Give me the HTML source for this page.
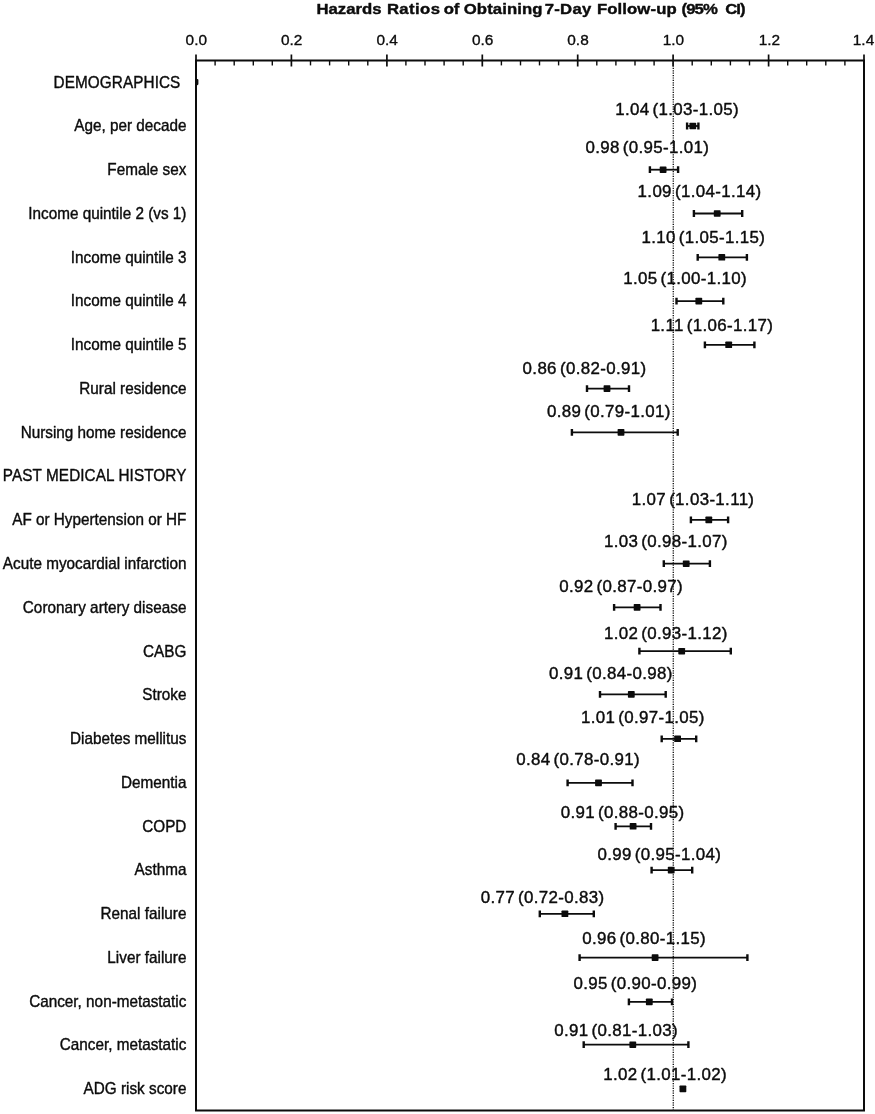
<!DOCTYPE html>
<html><head><meta charset="utf-8"><title>Hazards Ratios of Obtaining 7-Day Follow-up</title>
<style>
html,body{margin:0;padding:0;background:#fff;}
svg{display:block;}
text{font-family:"Liberation Sans",Arial,Helvetica,sans-serif;fill:#0c0c0c;stroke:#0c0c0c;stroke-width:0.35px;stroke-linejoin:round;}
.t{font-weight:bold;font-size:15.2px;stroke-width:0.4px;}
.a{font-size:15.4px;}
.l{font-size:16.2px;stroke-width:0.4px;}
.v{font-size:16.9px;letter-spacing:0.35px;word-spacing:-2px;stroke-width:0.42px;}
</style></head><body>
<svg width="875" height="1114" viewBox="0 0 875 1114">
<rect x="0" y="0" width="875" height="1114" fill="#ffffff"/>
<text class="t" transform="translate(0,13.6) scale(1.1,1)"><tspan x="287.72" style="letter-spacing:0px">Hazards</tspan> <tspan x="351.72" style="letter-spacing:0.36px">Ratios</tspan> <tspan x="403.36" style="letter-spacing:-0.2px">of</tspan> <tspan x="421.57" style="letter-spacing:0.1px">Obtaining</tspan> <tspan x="495.30" style="letter-spacing:0.2px">7-Day</tspan> <tspan x="542.63" style="letter-spacing:0.1px">Follow-up</tspan> <tspan x="619.57" style="letter-spacing:-0.8px">(95%</tspan> <tspan x="659.21" style="letter-spacing:-0.8px">CI)</tspan></text>
<text class="a" x="196.3" y="44.7" text-anchor="middle">0.0</text>
<text class="a" x="291.7" y="44.7" text-anchor="middle">0.2</text>
<text class="a" x="387.2" y="44.7" text-anchor="middle">0.4</text>
<text class="a" x="482.6" y="44.7" text-anchor="middle">0.6</text>
<text class="a" x="578.0" y="44.7" text-anchor="middle">0.8</text>
<text class="a" x="673.4" y="44.7" text-anchor="middle">1.0</text>
<text class="a" x="769.4" y="44.7" text-anchor="middle">1.2</text>
<text class="a" x="863.5" y="44.7" text-anchor="middle">1.4</text>
<path d="M196.0 1111.6V60.6H864.0V1110.6H196.0" stroke="#0c0c0c" stroke-width="2" fill="none"/>
<g stroke="#0c0c0c">
<line x1="196.0" y1="54.5" x2="196.0" y2="66.5" stroke-width="1.7"/>
<line x1="215.1" y1="60.6" x2="215.1" y2="65.4" stroke-width="1.4"/>
<line x1="234.2" y1="60.6" x2="234.2" y2="65.4" stroke-width="1.4"/>
<line x1="253.3" y1="60.6" x2="253.3" y2="65.4" stroke-width="1.4"/>
<line x1="272.3" y1="60.6" x2="272.3" y2="65.4" stroke-width="1.4"/>
<line x1="291.4" y1="54.5" x2="291.4" y2="66.5" stroke-width="1.7"/>
<line x1="310.5" y1="60.6" x2="310.5" y2="65.4" stroke-width="1.4"/>
<line x1="329.6" y1="60.6" x2="329.6" y2="65.4" stroke-width="1.4"/>
<line x1="348.7" y1="60.6" x2="348.7" y2="65.4" stroke-width="1.4"/>
<line x1="367.8" y1="60.6" x2="367.8" y2="65.4" stroke-width="1.4"/>
<line x1="386.9" y1="54.5" x2="386.9" y2="66.5" stroke-width="1.7"/>
<line x1="405.9" y1="60.6" x2="405.9" y2="65.4" stroke-width="1.4"/>
<line x1="425.0" y1="60.6" x2="425.0" y2="65.4" stroke-width="1.4"/>
<line x1="444.1" y1="60.6" x2="444.1" y2="65.4" stroke-width="1.4"/>
<line x1="463.2" y1="60.6" x2="463.2" y2="65.4" stroke-width="1.4"/>
<line x1="482.3" y1="54.5" x2="482.3" y2="66.5" stroke-width="1.7"/>
<line x1="501.4" y1="60.6" x2="501.4" y2="65.4" stroke-width="1.4"/>
<line x1="520.5" y1="60.6" x2="520.5" y2="65.4" stroke-width="1.4"/>
<line x1="539.5" y1="60.6" x2="539.5" y2="65.4" stroke-width="1.4"/>
<line x1="558.6" y1="60.6" x2="558.6" y2="65.4" stroke-width="1.4"/>
<line x1="577.7" y1="54.5" x2="577.7" y2="66.5" stroke-width="1.7"/>
<line x1="596.8" y1="60.6" x2="596.8" y2="65.4" stroke-width="1.4"/>
<line x1="615.9" y1="60.6" x2="615.9" y2="65.4" stroke-width="1.4"/>
<line x1="635.0" y1="60.6" x2="635.0" y2="65.4" stroke-width="1.4"/>
<line x1="654.1" y1="60.6" x2="654.1" y2="65.4" stroke-width="1.4"/>
<line x1="673.1" y1="54.5" x2="673.1" y2="66.5" stroke-width="1.7"/>
<line x1="692.2" y1="60.6" x2="692.2" y2="65.4" stroke-width="1.4"/>
<line x1="711.3" y1="60.6" x2="711.3" y2="65.4" stroke-width="1.4"/>
<line x1="730.4" y1="60.6" x2="730.4" y2="65.4" stroke-width="1.4"/>
<line x1="749.5" y1="60.6" x2="749.5" y2="65.4" stroke-width="1.4"/>
<line x1="768.6" y1="54.5" x2="768.6" y2="66.5" stroke-width="1.7"/>
<line x1="787.7" y1="60.6" x2="787.7" y2="65.4" stroke-width="1.4"/>
<line x1="806.7" y1="60.6" x2="806.7" y2="65.4" stroke-width="1.4"/>
<line x1="825.8" y1="60.6" x2="825.8" y2="65.4" stroke-width="1.4"/>
<line x1="844.9" y1="60.6" x2="844.9" y2="65.4" stroke-width="1.4"/>
<line x1="864.0" y1="54.5" x2="864.0" y2="66.5" stroke-width="1.7"/>
</g>
<line x1="673.3" y1="60.6" x2="673.3" y2="1110.6" stroke="#1a1a1a" stroke-width="1.4" stroke-dasharray="1.2 1.2"/>
<text class="l" style="font-size:16.8px" transform="translate(180.3,87.5) scale(0.91,1)" text-anchor="end" textLength="139.3" lengthAdjust="spacing">DEMOGRAPHICS</text>
<rect x="196.0" y="79.0" width="2.4" height="6.2" rx="1.1" fill="#0c0c0c"/>
<text class="l" style="font-size:16.2px" transform="translate(186.4,131.3) scale(0.944,1)" text-anchor="end">Age, per decade</text>
<path d="M687.1 126.0H698.4" stroke="#0c0c0c" stroke-width="1.8" fill="none"/><path d="M687.1 122.6V129.4M698.4 122.6V129.4" stroke="#0c0c0c" stroke-width="2.4" fill="none"/>
<rect x="689.4" y="122.7" width="6.8" height="6.6" rx="0.7" fill="#0c0c0c"/>
<text class="v" x="677.2" y="115.4" text-anchor="middle">1.04 (1.03-1.05)</text>
<text class="l" style="font-size:16.2px" transform="translate(186.4,175.0) scale(0.944,1)" text-anchor="end">Female sex</text>
<path d="M649.9 169.7H678.1" stroke="#0c0c0c" stroke-width="1.8" fill="none"/><path d="M649.9 166.3V173.1M678.1 166.3V173.1" stroke="#0c0c0c" stroke-width="2.4" fill="none"/>
<rect x="659.7" y="166.4" width="6.8" height="6.6" rx="0.7" fill="#0c0c0c"/>
<text class="v" x="647.4" y="152.5" text-anchor="middle">0.98 (0.95-1.01)</text>
<text class="l" style="font-size:16.2px" transform="translate(186.4,218.8) scale(0.944,1)" text-anchor="end">Income quintile 2 (vs 1)</text>
<path d="M693.9 213.5H742.2" stroke="#0c0c0c" stroke-width="1.8" fill="none"/><path d="M693.9 210.1V216.9M742.2 210.1V216.9" stroke="#0c0c0c" stroke-width="2.4" fill="none"/>
<rect x="713.8" y="210.2" width="6.8" height="6.6" rx="0.7" fill="#0c0c0c"/>
<text class="v" x="699.5" y="197.3" text-anchor="middle">1.09 (1.04-1.14)</text>
<text class="l" style="font-size:16.2px" transform="translate(186.4,262.6) scale(0.944,1)" text-anchor="end">Income quintile 3</text>
<path d="M697.7 257.3H746.9" stroke="#0c0c0c" stroke-width="1.8" fill="none"/><path d="M697.7 253.9V260.7M746.9 253.9V260.7" stroke="#0c0c0c" stroke-width="2.4" fill="none"/>
<rect x="718.4" y="254.0" width="6.8" height="6.6" rx="0.7" fill="#0c0c0c"/>
<text class="v" x="703.4" y="242.9" text-anchor="middle">1.10 (1.05-1.15)</text>
<text class="l" style="font-size:16.2px" transform="translate(186.4,306.4) scale(0.944,1)" text-anchor="end">Income quintile 4</text>
<path d="M676.5 301.1H723.3" stroke="#0c0c0c" stroke-width="1.8" fill="none"/><path d="M676.5 297.7V304.4M723.3 297.7V304.4" stroke="#0c0c0c" stroke-width="2.4" fill="none"/>
<rect x="695.4" y="297.8" width="6.8" height="6.6" rx="0.7" fill="#0c0c0c"/>
<text class="v" x="685.1" y="284.3" text-anchor="middle">1.05 (1.00-1.10)</text>
<text class="l" style="font-size:16.2px" transform="translate(186.4,350.1) scale(0.944,1)" text-anchor="end">Income quintile 5</text>
<path d="M704.9 344.8H754.4" stroke="#0c0c0c" stroke-width="1.8" fill="none"/><path d="M704.9 341.4V348.2M754.4 341.4V348.2" stroke="#0c0c0c" stroke-width="2.4" fill="none"/>
<rect x="725.3" y="341.5" width="6.8" height="6.6" rx="0.7" fill="#0c0c0c"/>
<text class="v" x="711.9" y="330.7" text-anchor="middle">1.11 (1.06-1.17)</text>
<text class="l" style="font-size:16.2px" transform="translate(186.4,393.9) scale(0.944,1)" text-anchor="end">Rural residence</text>
<path d="M587.0 388.6H629.0" stroke="#0c0c0c" stroke-width="1.8" fill="none"/><path d="M587.0 385.2V392.0M629.0 385.2V392.0" stroke="#0c0c0c" stroke-width="2.4" fill="none"/>
<rect x="603.6" y="385.3" width="6.8" height="6.6" rx="0.7" fill="#0c0c0c"/>
<text class="v" x="584.5" y="373.6" text-anchor="middle">0.86 (0.82-0.91)</text>
<text class="l" style="font-size:16.2px" transform="translate(186.4,437.7) scale(0.944,1)" text-anchor="end">Nursing home residence</text>
<path d="M571.9 432.4H677.7" stroke="#0c0c0c" stroke-width="1.8" fill="none"/><path d="M571.9 429.0V435.8M677.7 429.0V435.8" stroke="#0c0c0c" stroke-width="2.4" fill="none"/>
<rect x="617.6" y="429.1" width="6.8" height="6.6" rx="0.7" fill="#0c0c0c"/>
<text class="v" x="608.8" y="417.4" text-anchor="middle">0.89 (0.79-1.01)</text>
<text class="l" style="font-size:16.8px" transform="translate(186.4,481.4) scale(0.91,1)" text-anchor="end" textLength="201.8" lengthAdjust="spacing">PAST MEDICAL HISTORY</text>
<text class="l" style="font-size:16.2px" transform="translate(186.4,525.2) scale(0.944,1)" text-anchor="end">AF or Hypertension or HF</text>
<path d="M690.9 519.9H728.1" stroke="#0c0c0c" stroke-width="1.8" fill="none"/><path d="M690.9 516.5V523.3M728.1 516.5V523.3" stroke="#0c0c0c" stroke-width="2.4" fill="none"/>
<rect x="705.4" y="516.6" width="6.8" height="6.6" rx="0.7" fill="#0c0c0c"/>
<text class="v" x="693.1" y="504.6" text-anchor="middle">1.07 (1.03-1.11)</text>
<text class="l" style="font-size:16.2px" transform="translate(186.4,569.0) scale(0.944,1)" text-anchor="end">Acute myocardial infarction</text>
<path d="M663.8 563.7H709.9" stroke="#0c0c0c" stroke-width="1.8" fill="none"/><path d="M663.8 560.3V567.1M709.9 560.3V567.1" stroke="#0c0c0c" stroke-width="2.4" fill="none"/>
<rect x="682.8" y="560.4" width="6.8" height="6.6" rx="0.7" fill="#0c0c0c"/>
<text class="v" x="665.8" y="546.5" text-anchor="middle">1.03 (0.98-1.07)</text>
<text class="l" style="font-size:16.2px" transform="translate(186.4,612.7) scale(0.944,1)" text-anchor="end" textLength="173.3" lengthAdjust="spacing">Coronary artery disease</text>
<path d="M614.1 607.4H660.5" stroke="#0c0c0c" stroke-width="1.8" fill="none"/><path d="M614.1 604.0V610.8M660.5 604.0V610.8" stroke="#0c0c0c" stroke-width="2.4" fill="none"/>
<rect x="633.7" y="604.1" width="6.8" height="6.6" rx="0.7" fill="#0c0c0c"/>
<text class="v" x="621.1" y="591.8" text-anchor="middle">0.92 (0.87-0.97)</text>
<text class="l" style="font-size:16.2px" transform="translate(186.4,656.5) scale(0.944,1)" text-anchor="end">CABG</text>
<path d="M639.4 651.2H730.8" stroke="#0c0c0c" stroke-width="1.8" fill="none"/><path d="M639.4 647.8V654.6M730.8 647.8V654.6" stroke="#0c0c0c" stroke-width="2.4" fill="none"/>
<rect x="678.3" y="647.9" width="6.8" height="6.6" rx="0.7" fill="#0c0c0c"/>
<text class="v" x="665.8" y="639.3" text-anchor="middle">1.02 (0.93-1.12)</text>
<text class="l" style="font-size:16.2px" transform="translate(186.4,699.7) scale(0.944,1)" text-anchor="end">Stroke</text>
<path d="M600.0 694.4H665.7" stroke="#0c0c0c" stroke-width="1.8" fill="none"/><path d="M600.0 691.0V697.8M665.7 691.0V697.8" stroke="#0c0c0c" stroke-width="2.4" fill="none"/>
<rect x="627.9" y="691.1" width="6.8" height="6.6" rx="0.7" fill="#0c0c0c"/>
<text class="v" x="610.8" y="679.1" text-anchor="middle">0.91 (0.84-0.98)</text>
<text class="l" style="font-size:16.2px" transform="translate(186.4,744.1) scale(0.944,1)" text-anchor="end">Diabetes mellitus</text>
<path d="M661.7 738.8H696.2" stroke="#0c0c0c" stroke-width="1.8" fill="none"/><path d="M661.7 735.4V742.2M696.2 735.4V742.2" stroke="#0c0c0c" stroke-width="2.4" fill="none"/>
<rect x="674.2" y="735.5" width="6.8" height="6.6" rx="0.7" fill="#0c0c0c"/>
<text class="v" x="642.8" y="723.1" text-anchor="middle">1.01 (0.97-1.05)</text>
<text class="l" style="font-size:16.2px" transform="translate(186.4,788.2) scale(0.944,1)" text-anchor="end">Dementia</text>
<path d="M567.6 782.9H632.5" stroke="#0c0c0c" stroke-width="1.8" fill="none"/><path d="M567.6 779.5V786.3M632.5 779.5V786.3" stroke="#0c0c0c" stroke-width="2.4" fill="none"/>
<rect x="595.1" y="779.6" width="6.8" height="6.6" rx="0.7" fill="#0c0c0c"/>
<text class="v" x="578.1" y="764.7" text-anchor="middle">0.84 (0.78-0.91)</text>
<text class="l" style="font-size:16.2px" transform="translate(186.4,831.6) scale(0.944,1)" text-anchor="end">COPD</text>
<path d="M615.6 826.3H651.0" stroke="#0c0c0c" stroke-width="1.8" fill="none"/><path d="M615.6 822.9V829.7M651.0 822.9V829.7" stroke="#0c0c0c" stroke-width="2.4" fill="none"/>
<rect x="629.7" y="823.0" width="6.8" height="6.6" rx="0.7" fill="#0c0c0c"/>
<text class="v" x="622.6" y="817.8" text-anchor="middle">0.91 (0.88-0.95)</text>
<text class="l" style="font-size:16.2px" transform="translate(186.4,875.4) scale(0.944,1)" text-anchor="end">Asthma</text>
<path d="M651.6 870.1H692.2" stroke="#0c0c0c" stroke-width="1.8" fill="none"/><path d="M651.6 866.7V873.5M692.2 866.7V873.5" stroke="#0c0c0c" stroke-width="2.4" fill="none"/>
<rect x="667.8" y="866.8" width="6.8" height="6.6" rx="0.7" fill="#0c0c0c"/>
<text class="v" x="659.3" y="859.7" text-anchor="middle">0.99 (0.95-1.04)</text>
<text class="l" style="font-size:16.2px" transform="translate(186.4,919.1) scale(0.944,1)" text-anchor="end">Renal failure</text>
<path d="M539.8 913.8H593.8" stroke="#0c0c0c" stroke-width="1.8" fill="none"/><path d="M539.8 910.4V917.2M593.8 910.4V917.2" stroke="#0c0c0c" stroke-width="2.4" fill="none"/>
<rect x="561.5" y="910.5" width="6.8" height="6.6" rx="0.7" fill="#0c0c0c"/>
<text class="v" x="542.6" y="902.9" text-anchor="middle">0.77 (0.72-0.83)</text>
<text class="l" style="font-size:16.2px" transform="translate(186.4,962.9) scale(0.944,1)" text-anchor="end">Liver failure</text>
<path d="M579.6 957.6H747.4" stroke="#0c0c0c" stroke-width="1.8" fill="none"/><path d="M579.6 954.2V961.0M747.4 954.2V961.0" stroke="#0c0c0c" stroke-width="2.4" fill="none"/>
<rect x="651.7" y="954.3" width="6.8" height="6.6" rx="0.7" fill="#0c0c0c"/>
<text class="v" x="644.2" y="943.7" text-anchor="middle">0.96 (0.80-1.15)</text>
<text class="l" style="font-size:16.2px" transform="translate(186.4,1007.2) scale(0.944,1)" text-anchor="end">Cancer, non-metastatic</text>
<path d="M628.9 1001.9H672.0" stroke="#0c0c0c" stroke-width="1.8" fill="none"/><path d="M628.9 998.5V1005.3M672.0 998.5V1005.3" stroke="#0c0c0c" stroke-width="2.4" fill="none"/>
<rect x="645.9" y="998.6" width="6.8" height="6.6" rx="0.7" fill="#0c0c0c"/>
<text class="v" x="635.3" y="988.8" text-anchor="middle">0.95 (0.90-0.99)</text>
<text class="l" style="font-size:16.2px" transform="translate(186.4,1050.0) scale(0.944,1)" text-anchor="end">Cancer, metastatic</text>
<path d="M583.7 1044.7H688.4" stroke="#0c0c0c" stroke-width="1.8" fill="none"/><path d="M583.7 1041.3V1048.1M688.4 1041.3V1048.1" stroke="#0c0c0c" stroke-width="2.4" fill="none"/>
<rect x="629.4" y="1041.4" width="6.8" height="6.6" rx="0.7" fill="#0c0c0c"/>
<text class="v" x="616.1" y="1036.1" text-anchor="middle">0.91 (0.81-1.03)</text>
<text class="l" style="font-size:16.2px" transform="translate(186.4,1094.2) scale(0.944,1)" text-anchor="end">ADG risk score</text>
<rect x="679.5" y="1085.6" width="6.8" height="6.6" rx="0.7" fill="#0c0c0c"/>
<text class="v" x="665.1" y="1080.4" text-anchor="middle">1.02 (1.01-1.02)</text>
</svg>
</body></html>
